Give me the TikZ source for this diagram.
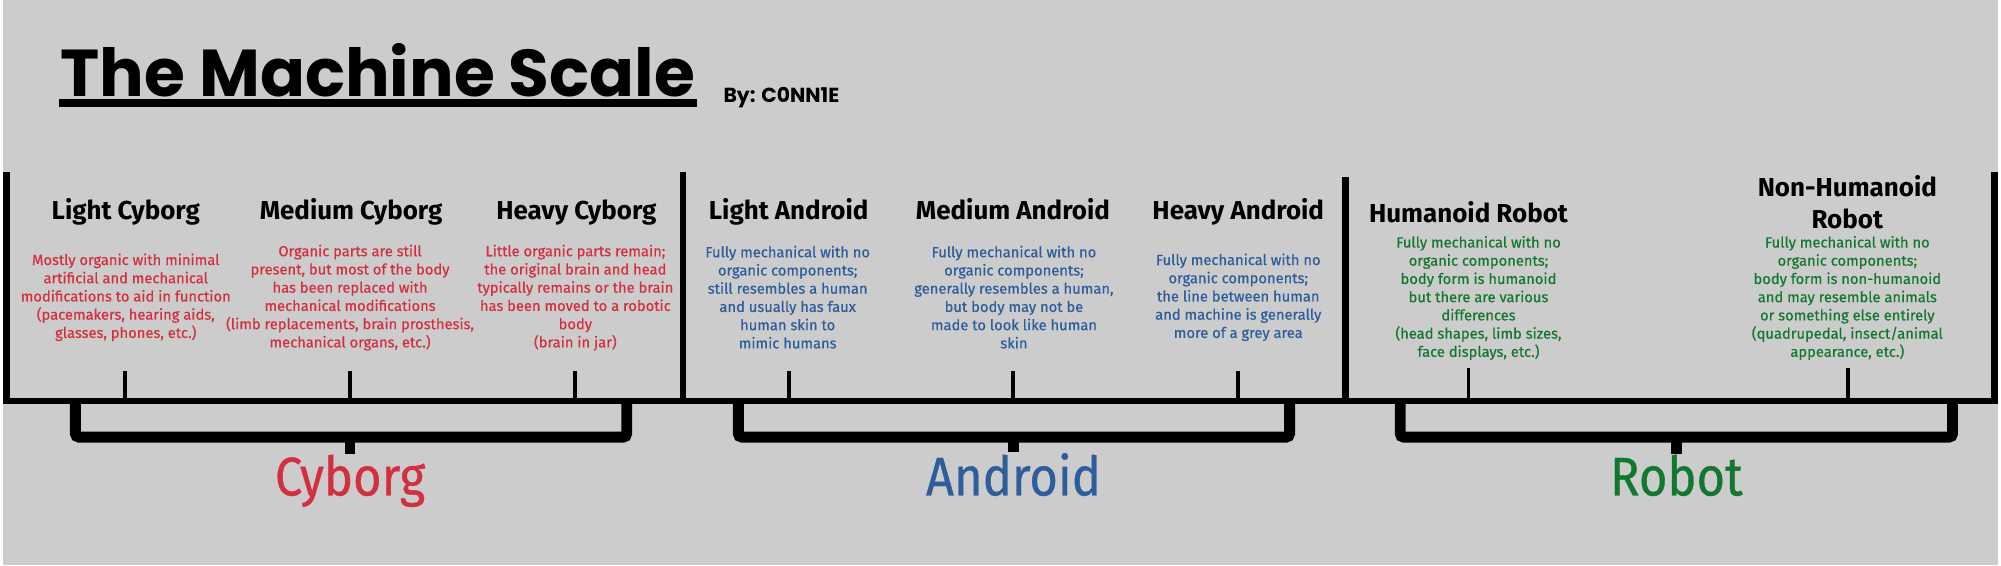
\documentclass[tikz,border=0pt]{standalone}
\usepackage{fontspec}
\setmainfont{Fira Sans}
\newfontfamily\titlefont{Poppins}
\newfontfamily\groupfont{Fira Sans}[FakeStretch=0.9, FakeBold=0.6]
\newfontfamily\descfont{Fira Sans}[FakeBold=0.5]
\usepackage{xcolor}
\definecolor{bg}{HTML}{CCCCCC}
\definecolor{cyb}{HTML}{D3303F}
\definecolor{andr}{HTML}{2D5D9B}
\definecolor{rob}{HTML}{13782F}

\begin{document}
\begin{tikzpicture}[x=0.01cm, y=-0.01cm,
		head/.style = {font=\fontsize{7.4}{9.1}\selectfont\bfseries, align=center, anchor=base, inner sep=0pt},
		desc/.style = {font=\fontsize{4.2}{5.2}\descfont, align=center, anchor=base, inner sep=0pt},
		group/.style = {font=\fontsize{15.5}{18}\groupfont, anchor=base, inner sep=0pt},
		bar/.style = {line width=1.8pt},
		tick/.style = {line width=1.1pt},
		bracket/.style = {line width=3.1pt, rounded corners=1pt}]
	\fill[bg] (0,0) rectangle (2001,567);
	
	% title
	\node[anchor=base, inner sep=0pt, font=\fontsize{18.9}{22}\titlefont\bfseries] (title) at (376,97) {The Machine Scale};
	\node[anchor=base west, inner sep=0pt, font=\fontsize{5.8}{7}\titlefont\bfseries] (by) at (722,103) {By: C0NN1E};
	\coordinate (u1) at (56,103);
	\coordinate (u2) at (696,103);
	\draw[line width=2.3pt] (u1) -- (u2);
	
	% scale
	\coordinate (l) at (0,402);
	\coordinate (r) at (2001,402);
	\coordinate (s0) at (3.5,173);
	\coordinate (s1) at (682,173);
	\coordinate (s2) at (1346.5,178);
	\coordinate (s3) at (1997.5,173);
	\draw[bar] (l) -- (r);
	\draw[bar] (s0) -- ([yshift=-0.9pt]s0 |- l);
	\draw[bar] (s1) -- ([yshift=-0.9pt]s1 |- l);
	\draw[bar] (s2) -- ([yshift=-0.9pt]s2 |- l);
	\draw[bar] (s3) -- ([yshift=-0.9pt]s3 |- l);
	
	\node[head] (lc) at (123,220) {Light Cyborg};
	\node[head] (mc) at (349,220) {Medium Cyborg};
	\node[head] (hc) at (575,220) {Heavy Cyborg};
	\node[head] (la) at (788,220) {Light Android};
	\node[head] (ma) at (1013,220) {Medium Android};
	\node[head] (ha) at (1239,220) {Heavy Android};
	\node[head] (hr) at (1470,223) {Humanoid Robot};
	\node[head] (nr) at (1850,229) {Non-Humanoid\\Robot};
	
	% last baselines
	\node[desc, text=cyb] (lcd) at (123,339) {Mostly organic with minimal\\artificial and mechanical\\modifications to aid in function\\(pacemakers, hearing aids,\\glasses, phones, etc.)};
	\node[desc, text=cyb] (mcd) at (348,348.5) {Organic parts are still\\present, but most of the body\\has been replaced with\\mechanical modifications\\(limb replacements, brain prosthesis,\\mechanical organs, etc.)};
	\node[desc, text=cyb] (hcd) at (574,348.5) {Little organic parts remain;\\the original brain and head\\typically remains or the brain\\has been moved to a robotic\\body\\(brain in jar)};
	\node[desc, text=andr] (lad) at (787,349.5) {Fully mechanical with no\\organic components;\\still resembles a human\\and usually has faux\\human skin to\\mimic humans};
	\node[desc, text=andr] (mad) at (1014,349.5) {Fully mechanical with no\\organic components;\\generally resembles a human,\\but body may not be\\made to look like human\\skin};
	\node[desc, text=andr] (had) at (1239,339) {Fully mechanical with no\\organic components;\\the line between human\\and machine is generally\\more of a grey area};
	\node[desc, text=rob] (hrd) at (1480,358) {Fully mechanical with no\\organic components;\\body form is humanoid\\but there are various\\differences\\(head shapes, limb sizes,\\face displays, etc.)};
	\node[desc, text=rob] (nrd) at (1850,358) {Fully mechanical with no\\organic components;\\body form is non-humanoid\\and may resemble animals\\or something else entirely\\(quadrupedal, insect/animal\\appearance, etc.)};
	
	\coordinate (t1) at (122,372);
	\coordinate (t2) at (348,372);
	\coordinate (t3) at (574,372);
	\coordinate (t4) at (788,372);
	\coordinate (t5) at (1013,372);
	\coordinate (t6) at (1239,372);
	\coordinate (t7) at (1470,369);
	\coordinate (t8) at (1851,369);
	\draw[tick] (t1) -- (t1 |- l);
	\draw[tick] (t2) -- (t2 |- l);
	\draw[tick] (t3) -- (t3 |- l);
	\draw[tick] (t4) -- (t4 |- l);
	\draw[tick] (t5) -- (t5 |- l);
	\draw[tick] (t6) -- (t6 |- l);
	\draw[tick] (t7) -- (t7 |- l);
	\draw[tick] (t8) -- (t8 |- l);
	
	% groups
	\node[group, text=cyb] (cyborg) at (348,497) {Cyborg};
	\node[group, text=andr] (android) at (1013.5,497) {Android};
	\node[group, text=rob] (robot) at (1678.5,497) {Robot};
	
	\coordinate (ca) at (72.5,402);
	\coordinate (cb) at (625.5,402);
	\coordinate (cm) at (348,438.5);
	\coordinate (aa) at (737.5,402);
	\coordinate (ab) at (1290.5,402);
	\coordinate (am) at (1013.5,438.5);
	\coordinate (ra) at (1401.5,402);
	\coordinate (rb) at (1955.5,402);
	\coordinate (rm) at (1678.5,438.5);
	\draw[bracket] (ca) -- (ca |- cm) -- (cb |- cm) -- (cb);
	\draw[bracket] (aa) -- (aa |- am) -- (ab |- am) -- (ab);
	\draw[bracket] (ra) -- (ra |- rm) -- (rb |- rm) -- (rb);
	\draw[bracket] (cm) -- (cyborg.north);
	\draw[bracket] (am) -- (android.north);
	\draw[bracket] (rm) -- (robot.north);
\end{tikzpicture}
\end{document}
